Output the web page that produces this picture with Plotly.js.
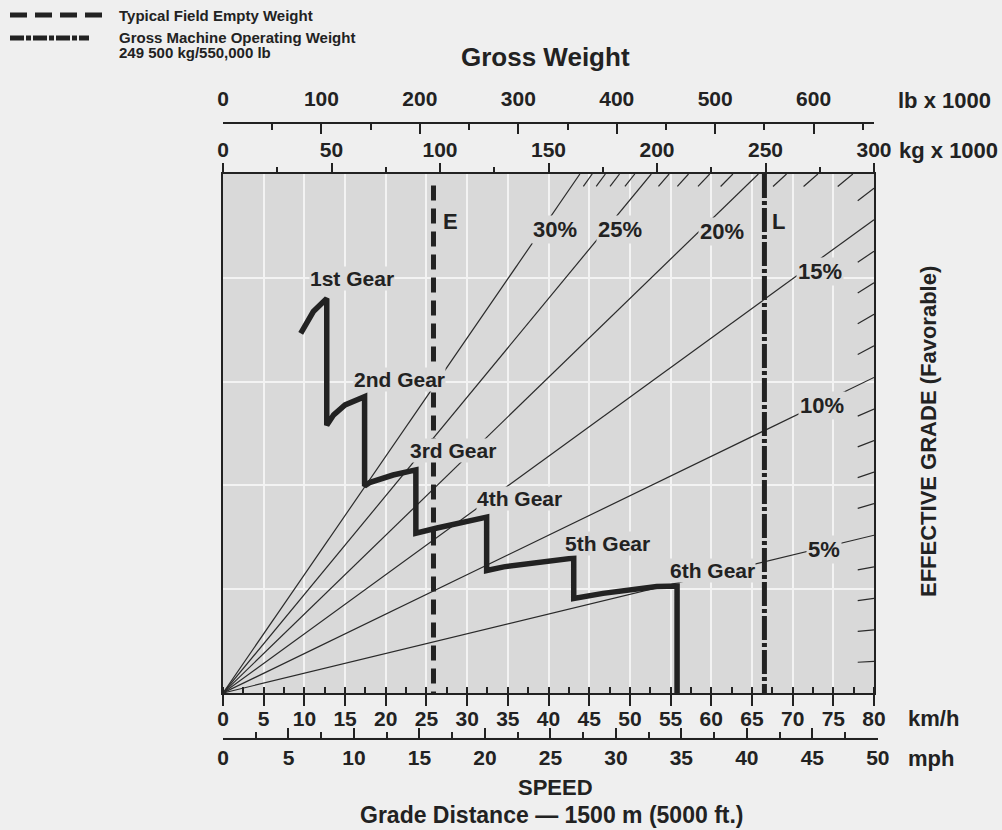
<!DOCTYPE html>
<html><head><meta charset="utf-8">
<script src="https://cdn.plot.ly/plotly-3.0.1.min.js"></script>
<style>html,body{margin:0;padding:0;background:#efefef;}</style>
</head><body><div id="chart" style="width:1002px;height:830px;"></div>
<script>
// ---------------- data ----------------
const gradeValues = [5, 10, 15, 20, 25, 30];              // labelled effective-grade lines (%)
const gradeLabels = ['5%', '10%', '15%', '20%', '25%', '30%'];
const hatchGrades = [1,2,3,4,6,7,8,9,11,12,13,14,16,17,18,19,21,22,23,24,26,27,28,29];
const gradeSlope = 0.038;   // chart units per km/h per 1 % grade
const forceMax = 50;        // chart top (arbitrary units)

const gearSpeed = [9.55, 11.1, 12.75, 12.75, 13.6, 15.0, 17.4, 17.4, 18.1, 20.9, 23.7, 23.7,
                   26.3, 32.4, 32.4, 34.5, 43.1, 43.1, 46.7, 53.3, 55.8, 55.8];   // km/h
const gearForce = [34.65, 36.75, 38.0, 25.8, 26.8, 27.75, 28.55, 19.95, 20.3, 21.0, 21.5, 15.4,
                   15.9, 16.95, 11.8, 12.15, 13.0, 9.1, 9.6, 10.25, 10.3, 0];
const gearNames = ['1st Gear', '2nd Gear', '3rd Gear', '4th Gear', '5th Gear', '6th Gear'];

const emptyWeight = 97;      // kg x 1000 (E)
const grossWeight = 249.5;   // kg x 1000 (L)

const kmhMax = 80, kgMax = 300, lbMax = 661.39, mphMax = 50;

// ---------------- helpers ----------------
const W = 1002, H = 830;
const px = v => v / W;
const py = v => (H - v) / H;
const sans = '"Liberation Sans", Arial, Helvetica, sans-serif';
const ink = '#222222';

function gradeEnd(g) {
  const m = g * gradeSlope;
  const xe = Math.min(kmhMax, forceMax / m);
  return [xe, m * xe];
}

const traces = [];
gradeValues.forEach(g => {
  const [xe, ye] = gradeEnd(g);
  traces.push({x: [0, xe], y: [0, ye], mode: 'lines', type: 'scatter',
    line: {color: '#2a2a2a', width: 1.2}, hoverinfo: 'skip', showlegend: false});
});
const hx = [], hy = [];
hatchGrades.forEach(g => {
  const m = g * gradeSlope;
  const [xe, ye] = gradeEnd(g);
  if (xe < kmhMax) { const y2 = forceMax - 1.2; hx.push(xe, y2 / m, null); hy.push(ye, y2, null); }
  else { const x2 = kmhMax - 2; hx.push(xe, x2, null); hy.push(ye, m * x2, null); }
});
traces.push({x: hx, y: hy, mode: 'lines', type: 'scatter', line: {color: '#2a2a2a', width: 1.2},
  hoverinfo: 'skip', showlegend: false, connectgaps: false});

traces.push({x: [emptyWeight, emptyWeight], y: [forceMax - 1.1, 0], xaxis: 'x2', yaxis: 'y',
  mode: 'lines', type: 'scatter', line: {color: ink, width: 5, dash: '15px,8px'}, showlegend: false});
traces.push({x: [grossWeight, grossWeight], y: [forceMax, 0], xaxis: 'x2', yaxis: 'y',
  mode: 'lines', type: 'scatter', line: {color: ink, width: 5, dash: '24px,3px,4px,3px'}, showlegend: false});
// invisible anchors so the secondary axes are drawn
traces.push({x: [0], y: [0], xaxis: 'x3', yaxis: 'y', mode: 'markers', marker: {opacity: 0}, showlegend: false, hoverinfo: 'skip'});
traces.push({x: [0], y: [0], xaxis: 'x4', yaxis: 'y2', mode: 'markers', marker: {opacity: 0}, showlegend: false, hoverinfo: 'skip'});

traces.push({x: gearSpeed, y: gearForce, mode: 'lines', type: 'scatter',
  line: {color: ink, width: 5.5}, showlegend: false});

const xDom = [px(223), px(874)];
const yDom = [py(693), py(174)];
const tickFont = {family: sans, size: 21, color: ink, weight: 'bold'};

const annotations = [];
const lab = (text, x, y, opts) => annotations.push(Object.assign({text, x, y, showarrow: false,
  xanchor: 'center', yanchor: 'middle',
  font: {family: sans, size: 22, color: ink, weight: 'bold'}}, opts || {}));

const gearPos = [[15.85, 39.9], [21.75, 30.25], [28.3, 23.4], [36.4, 18.7], [47.3, 14.45], [60.1, 11.85]];
gearNames.forEach((t, i) => lab(t, gearPos[i][0], gearPos[i][1],
  {xref: 'x', yref: 'y', font: {family: sans, size: 21, color: ink, weight: 'bold'}, bgcolor: '#d9d9d9', borderpad: 0}));
const gradePos = [[73.85, 13.87], [73.6, 27.65], [73.4, 40.65], [61.3, 44.5], [48.8, 44.7], [40.8, 44.7]];
gradeLabels.forEach((t, i) => lab(t, gradePos[i][0], gradePos[i][1],
  {xref: 'x', yref: 'y', font: {family: sans, size: 22, color: ink, weight: 'bold'}, bgcolor: '#d9d9d9', borderpad: 1}));
lab('E', 27.9, 45.4, {xref: 'x', yref: 'y', font: {family: sans, size: 22, color: ink, weight: 'bold'}});
lab('L', 68.3, 45.4, {xref: 'x', yref: 'y', font: {family: sans, size: 22, color: ink, weight: 'bold'}});

lab('Gross Weight', px(545), py(57), {xref: 'paper', yref: 'paper', font: {family: sans, size: 26, color: ink, weight: 'bold'}});
lab('lb x 1000', px(896), py(100), {xref: 'paper', yref: 'paper', xanchor: 'left'});
lab('kg x 1000', px(897), py(150), {xref: 'paper', yref: 'paper', xanchor: 'left'});
lab('km/h', px(906), py(718), {xref: 'paper', yref: 'paper', xanchor: 'left'});
lab('mph', px(906), py(758), {xref: 'paper', yref: 'paper', xanchor: 'left'});
lab('SPEED', px(555), py(787), {xref: 'paper', yref: 'paper', font: {family: sans, size: 22, color: ink, weight: 'bold'}});
lab('Grade Distance — 1500 m (5000 ft.)', px(552), py(815), {xref: 'paper', yref: 'paper', font: {family: sans, size: 23, color: ink, weight: 'bold'}});
lab('EFFECTIVE GRADE (Favorable)', px(928), py(432), {xref: 'paper', yref: 'paper', textangle: -90, font: {family: sans, size: 22, color: ink, weight: 'bold'}});
const legFont = {family: sans, size: 15, color: ink, weight: 'bold'};
lab('Typical Field Empty Weight', px(117), py(15), {xref: 'paper', yref: 'paper', xanchor: 'left', font: legFont});
lab('Gross Machine Operating Weight', px(117), py(37), {xref: 'paper', yref: 'paper', xanchor: 'left', font: legFont});
lab('249 500 kg/550,000 lb', px(117), py(53), {xref: 'paper', yref: 'paper', xanchor: 'left', font: legFont});

const shapes = [
  {type: 'line', xref: 'paper', yref: 'paper', x0: px(10), x1: px(105), y0: py(15), y1: py(15),
   line: {color: ink, width: 5, dash: '17px,8px'}},
  {type: 'line', xref: 'paper', yref: 'paper', x0: px(10), x1: px(89), y0: py(38), y1: py(38),
   line: {color: ink, width: 5, dash: '14px,2px,5px,2px'}}
];

const layout = {
  width: W, height: H,
  margin: {l: 0, r: 0, t: 0, b: 0, pad: 0},
  paper_bgcolor: '#efefef', plot_bgcolor: '#d9d9d9',
  showlegend: false,
  xaxis: {domain: xDom, range: [0, kmhMax], anchor: 'y', side: 'bottom', automargin: false,
    showline: true, linecolor: ink, linewidth: 2, ticks: 'outside', ticklen: 11, tickwidth: 2, tickcolor: ink,
    dtick: 5, tick0: 0, tickfont: tickFont, ticklabelstandoff: -5,
    showgrid: true, gridcolor: '#f3f3f3', gridwidth: 2, zeroline: false,
    minor: {ticks: 'inside', dtick: 2.5, tick0: 0, ticklen: 6, tickwidth: 2, tickcolor: ink, showgrid: false}},
  yaxis: {domain: yDom, range: [0, forceMax], anchor: 'x', automargin: false,
    showline: true, mirror: true, linecolor: ink, linewidth: 2, ticks: '', showticklabels: false,
    dtick: 10, showgrid: true, gridcolor: '#f3f3f3', gridwidth: 2, zeroline: false},
  xaxis2: {overlaying: 'x', anchor: 'y', side: 'top', range: [0, kgMax], automargin: false,
    showline: true, linecolor: ink, linewidth: 2, ticks: 'outside', ticklen: 9, tickwidth: 2, tickcolor: ink,
    dtick: 50, tick0: 0, tickfont: tickFont, showgrid: false, zeroline: false, ticklabelstandoff: -2,
    minor: {ticks: 'outside', dtick: 25, tick0: 0, ticklen: 5, tickwidth: 2, tickcolor: ink, showgrid: false}},
  xaxis3: {overlaying: 'x', anchor: 'free', position: py(123), side: 'top', range: [0, lbMax], automargin: false,
    showline: true, linecolor: ink, linewidth: 2, ticks: 'inside', ticklen: 10, tickwidth: 2, tickcolor: ink,
    dtick: 100, tick0: 0, tickfont: tickFont, showgrid: false, zeroline: false, ticklabelstandoff: 8,
    minor: {ticks: 'inside', dtick: 50, tick0: 0, ticklen: 6, tickwidth: 2, tickcolor: ink, showgrid: false}},
  xaxis4: {anchor: 'y2', side: 'bottom', domain: [px(223), px(877.8)], range: [0, mphMax], automargin: false,
    showline: true, linecolor: ink, linewidth: 2, ticks: 'inside', ticklen: 10, tickwidth: 2, tickcolor: ink,
    dtick: 5, tick0: 0, tickfont: tickFont, showgrid: false, zeroline: false, ticklabelstandoff: 0,
    minor: {ticks: 'inside', dtick: 2.5, tick0: 0, ticklen: 6, tickwidth: 2, tickcolor: ink, showgrid: false}},
  yaxis2: {anchor: 'x4', domain: [py(738), py(738) + 0.0003], range: [0, 1], visible: false,
    showgrid: false, zeroline: false, automargin: false},
  annotations, shapes
};

Plotly.newPlot('chart', traces, layout, {displayModeBar: false, staticPlot: true});
</script>
</body></html>
